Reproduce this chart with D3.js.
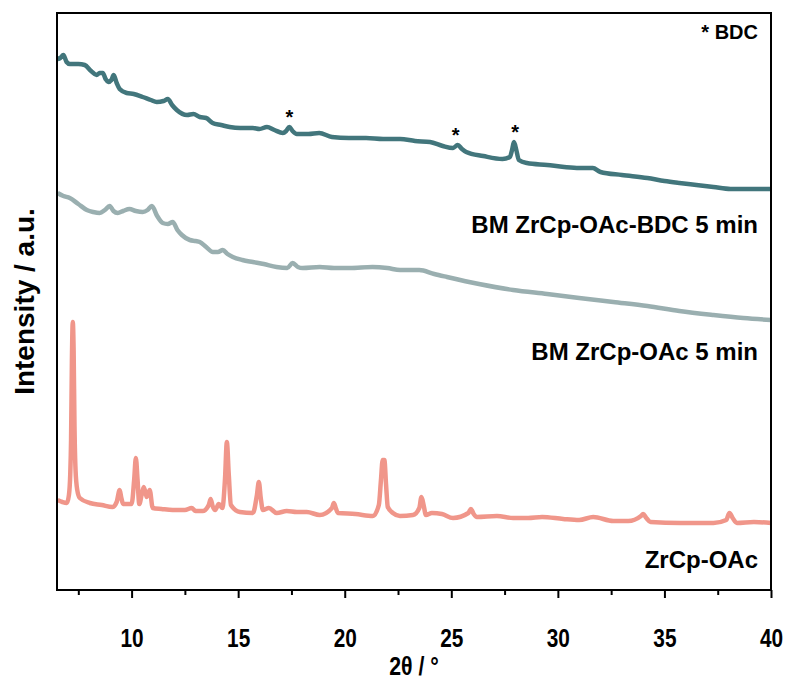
<!DOCTYPE html>
<html>
<head>
<meta charset="utf-8">
<script src="https://cdn.jsdelivr.net/npm/d3@7"></script>
<style>
  body { margin: 0; background: #fff; }
  text { font-family: "Liberation Sans", Arial, sans-serif; font-weight: bold; }
</style>
</head>
<body>
<div id="chart"></div>
<script>
const width = 789, height = 685;
const margin = { top: 13, right: 18, bottom: 95, left: 57 };

// 2theta (deg) / intensity (a.u., stacked)
const bdc5min = [
  [6.53, 531], [6.65, 532], [6.8, 535], [6.95, 528], [7.1, 526], [7.5, 526], [7.8, 525],
  [8.1, 519], [8.36, 515], [8.5, 517], [8.65, 517], [8.78, 511], [8.9, 508], [9.05, 510],
  [9.16, 515], [9.3, 507], [9.44, 501], [9.77, 497], [10.1, 496], [10.52, 493], [10.9, 490],
  [11.18, 488], [11.5, 489], [11.7, 491], [11.9, 485], [12.12, 480], [12.6, 475], [12.9, 476],
  [13.2, 473], [13.5, 472], [13.8, 467], [14.2, 465], [14.6, 463], [15.1, 462], [15.69, 462],
  [16.0, 461], [16.35, 463], [16.7, 460], [17.1, 457], [17.25, 459], [17.4, 463], [17.55, 459],
  [17.75, 456], [18.3, 456], [18.8, 457], [19.4, 453], [20.2, 452], [21.0, 452], [21.8, 451],
  [22.6, 451], [23.3, 449], [24.0, 448], [24.6, 444], [25.08, 442], [25.3, 445], [25.5, 441],
  [25.7, 438], [26.5, 434], [27.4, 431], [27.75, 433], [27.85, 440], [27.94, 448], [28.05, 440],
  [28.17, 430], [28.55, 427], [29.5, 425], [30.3, 423], [31.0, 422], [31.64, 422], [32.0, 418],
  [33.0, 415], [34.2, 412], [35.0, 409], [35.7, 407], [36.5, 405], [37.3, 403], [38.1, 401],
  [39.0, 401], [40.0, 401]
];

const oac5min = [
  [6.53, 397], [6.8, 394], [7.1, 392], [7.5, 386], [7.9, 380], [8.2, 378], [8.5, 377],
  [8.75, 380], [8.97, 384], [9.15, 379], [9.35, 377], [9.6, 379], [9.9, 381], [10.2, 379],
  [10.52, 378], [10.75, 380], [10.95, 384], [11.2, 374], [11.46, 367], [11.7, 366], [11.93, 368],
  [12.15, 360], [12.36, 355], [12.73, 350], [13.0, 349], [13.2, 348], [13.5, 343], [13.81, 338],
  [14.05, 338], [14.28, 340], [14.5, 336], [14.75, 333], [15.2, 330], [15.69, 328], [16.2, 326],
  [16.8, 323], [17.3, 322], [17.56, 327], [17.8, 323], [18.03, 322], [18.83, 323], [19.5, 322],
  [20.24, 322], [21.3, 323], [22.0, 322], [22.6, 320], [23.5, 320], [24.2, 316], [24.8, 313],
  [26.3, 306], [27.9, 300], [29.5, 296], [31.0, 292], [32.6, 288], [34.2, 284], [35.7, 279],
  [37.3, 275], [38.7, 272], [40.0, 270]
];

const zrcpOac = [
  [6.53, 90], [6.75, 88], [6.96, 87], [7.06, 95], [7.12, 115], [7.16, 150], [7.2, 230],
  [7.24, 268], [7.28, 240], [7.32, 165], [7.37, 120], [7.45, 100], [7.57, 92], [8.04, 87],
  [8.6, 85], [9.1, 83], [9.3, 88], [9.44, 100], [9.52, 92], [9.6, 86], [10.0, 86],
  [10.12, 110], [10.2, 132], [10.28, 110], [10.36, 86], [10.47, 95], [10.57, 103], [10.71, 93],
  [10.85, 100], [10.99, 82], [11.4, 81], [11.93, 80], [12.5, 80], [12.82, 82], [13.0, 79],
  [13.34, 79], [13.62, 85], [13.71, 91], [13.8, 84], [13.92, 80], [14.09, 86], [14.26, 82],
  [14.38, 110], [14.47, 148], [14.56, 115], [14.66, 85], [15.08, 78], [15.69, 77], [15.88, 95],
  [15.97, 108], [16.06, 92], [16.16, 80], [16.44, 82], [16.81, 77], [17.28, 79], [17.75, 78],
  [18.22, 78], [18.83, 75], [19.4, 82], [19.49, 87], [19.58, 82], [19.68, 77], [20.5, 76],
  [21.32, 74], [21.6, 85], [21.7, 110], [21.78, 130], [21.86, 130], [21.94, 105], [22.02, 83],
  [22.26, 77], [22.59, 74], [23.2, 75], [23.5, 82], [23.6, 93], [23.7, 85], [23.81, 75],
  [24.09, 77], [24.56, 76], [25.08, 72], [25.8, 77], [25.92, 81], [26.05, 76], [26.2, 73],
  [27.14, 74], [27.9, 72], [28.6, 72], [29.26, 73], [30.25, 71], [31.0, 70], [31.66, 73],
  [32.6, 69], [33.3, 69], [33.9, 74], [34.0, 76], [34.15, 72], [34.35, 68], [35.75, 67],
  [37.3, 67], [37.9, 70], [38.05, 77], [38.2, 72], [38.4, 67], [39.2, 68], [40.0, 67]
];

const majorTicks = [10, 15, 20, 25, 30, 35, 40];
const minorTicks = [7.5, 12.5, 17.5, 22.5, 27.5, 32.5, 37.5];

const seriesNames = ["BM ZrCp-OAc-BDC 5 min", "BM ZrCp-OAc 5 min", "ZrCp-OAc"];
const seriesColors = ["#42767c", "#9aafb0", "#f0968a"];
const seriesLabelY = [233, 360, 568];

const bdcPeaks = [[17.4, 477], [25.2, 459], [28.0, 462]];

const svg = d3.select("#chart").append("svg")
    .attr("width", width)
    .attr("height", height);

const x = d3.scaleLinear().domain([6.5, 40]).range([margin.left, width - margin.right]);
const y = d3.scaleLinear().domain([0, 577]).range([height - margin.bottom, margin.top]);

const line = d3.line()
    .curve(d3.curveMonotoneX)
    .x(d => x(d[0]))
    .y(d => y(d[1]));

// curves
[bdc5min, oac5min, zrcpOac].forEach((data, i) => {
  svg.append("path")
      .datum(data)
      .attr("fill", "none")
      .attr("stroke", seriesColors[i])
      .attr("stroke-width", 4.5)
      .attr("stroke-linejoin", "round")
      .attr("d", line);
});

// series labels
seriesNames.forEach((name, i) => {
  svg.append("text")
      .attr("x", width - margin.right - 13)
      .attr("y", seriesLabelY[i])
      .attr("text-anchor", "end")
      .attr("font-size", "24px")
      .text(name);
});

// asterisks for BDC reflections
svg.selectAll(".star")
    .data(bdcPeaks)
    .enter()
    .append("text")
    .attr("class", "star")
    .attr("x", d => x(d[0]))
    .attr("y", d => y(d[1]) + 11)
    .attr("text-anchor", "middle")
    .attr("font-size", "20px")
    .text("*");

svg.append("text")
    .attr("x", width - margin.right - 13)
    .attr("y", 39)
    .attr("text-anchor", "end")
    .attr("font-size", "20px")
    .text("* BDC");

// x axis
const xAxis = svg.append("g")
    .attr("transform", `translate(0,${height - margin.bottom})`)
    .call(d3.axisBottom(x).tickValues(majorTicks).tickSize(8).tickPadding(0).tickFormat(d3.format("d")));
xAxis.select(".domain").remove();
xAxis.selectAll(".tick line").attr("stroke", "#000").attr("stroke-width", 2);
xAxis.selectAll(".tick text")
    .attr("y", 0)
    .attr("dy", null)
    .attr("transform", "translate(0,57) scale(0.8,1)")
    .attr("font-size", "26px")
    .attr("font-family", "'Liberation Sans', Arial, sans-serif")
    .attr("font-weight", "bold")
    .attr("fill", "#000");

const xMinor = svg.append("g")
    .attr("transform", `translate(0,${height - margin.bottom})`)
    .call(d3.axisBottom(x).tickValues(minorTicks).tickSize(5).tickFormat(""));
xMinor.select(".domain").remove();
xMinor.selectAll(".tick line").attr("stroke", "#000").attr("stroke-width", 2);

// frame
svg.append("rect")
    .attr("x", margin.left)
    .attr("y", margin.top)
    .attr("width", width - margin.left - margin.right)
    .attr("height", height - margin.top - margin.bottom)
    .attr("fill", "none")
    .attr("stroke", "#000")
    .attr("stroke-width", 2);

// axis titles
svg.append("text")
    .attr("transform", `translate(${(margin.left + width - margin.right) / 2},675) scale(0.82,1)`)
    .attr("text-anchor", "middle")
    .attr("font-size", "26px")
    .text("2θ / °");

svg.append("text")
    .attr("transform", `translate(34,${(margin.top + height - margin.bottom) / 2}) rotate(-90)`)
    .attr("text-anchor", "middle")
    .attr("font-size", "28px")
    .text("Intensity / a.u.");
</script>
</body>
</html>
